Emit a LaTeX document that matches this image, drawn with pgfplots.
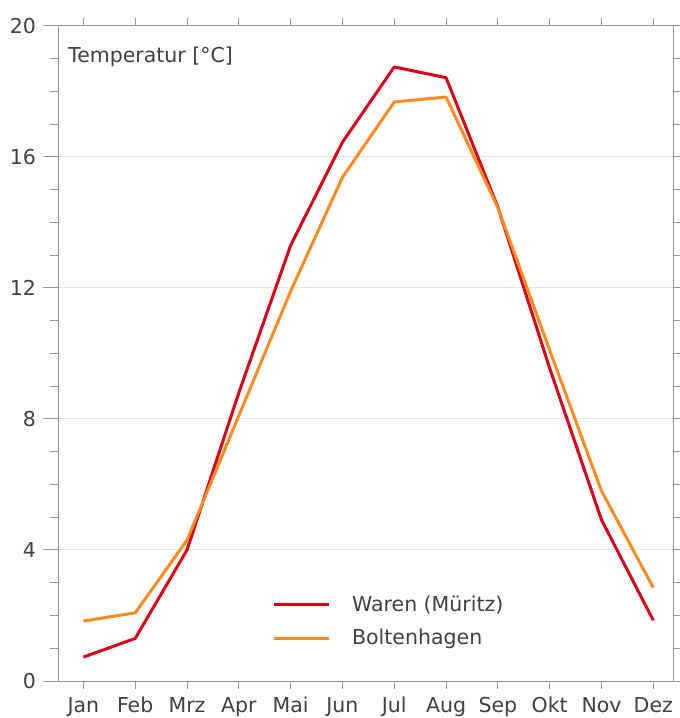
\documentclass[border=0pt]{standalone}
\usepackage{pgfplots}
\pgfplotsset{compat=1.18}
\usepackage{fontspec}
\setmainfont{DejaVu Sans}
\definecolor{cred}{RGB}{222,0,24}
\definecolor{corange}{RGB}{255,138,30}
\definecolor{txt}{RGB}{64,64,64}
\definecolor{axc}{RGB}{150,150,150}
\definecolor{gridc}{RGB}{228,228,228}
\begin{document}
\fontsize{20.5bp}{24bp}\selectfont
\begin{tikzpicture}
\begin{axis}[
  scale only axis,
  width=615bp, height=655bp,
  xmin=-0.49, xmax=11.38, ymin=0, ymax=20,
  xtick={0,...,11},
  xticklabels={Jan,Feb,Mrz,Apr,Mai,Jun,Jul,Aug,Sep,Okt,Nov,Dez},
  ytick={0,4,...,20},
  minor ytick={1,2,3,5,6,7,9,10,11,13,14,15,17,18,19},
  minor xtick={0,...,11},
  tick align=outside,
  major tick length=15bp,
  minor tick length=8bp,
  major x tick style={draw=none},
  axis line style={axc, line width=1bp},
  every tick/.style={axc, line width=1bp},
  ymajorgrids,
  major y grid style={gridc, line width=1bp},
  tick label style={txt, font=\fontsize{20.5bp}{24bp}\selectfont},
  xticklabel style={yshift=6bp, text height=15bp, text depth=4bp},
  /pgf/number format/assume math mode=true,
  clip=false,
  legend style={draw=none, fill=none, at={(rel axis cs:0.343,0.137)}, anchor=north west,
    font=\fontsize{20.5bp}{24bp}\selectfont, text=txt, row sep=11bp},
  legend cell align=left,
  legend image code/.code={\draw[#1] (0bp,0bp) -- (55bp,0bp); \path (75bp,0bp);},
]
\addplot[cred, line width=3bp, line join=round] coordinates {
 (0,0.73) (1,1.3) (2,4.0) (3,8.8) (4,13.3) (5,16.45) (6,18.75) (7,18.42) (8,14.47) (9,9.55) (10,4.92) (11,1.85)};
\addlegendentry{Waren (Müritz)}
\addplot[corange, line width=3bp, line join=round] coordinates {
 (0,1.83) (1,2.08) (2,4.3) (3,8.1) (4,11.9) (5,15.38) (6,17.68) (7,17.83) (8,14.45) (9,10.1) (10,5.8) (11,2.85)};
\addlegendentry{Boltenhagen}
\node[anchor=base west, inner sep=0, text=txt] at ([xshift=10bp,yshift=-37bp]rel axis cs:0,1) {Temperatur [°C]};
\coordinate (sw) at ([xshift=-58bp,yshift=-37bp]rel axis cs:0,0);
\coordinate (ne) at ([xshift=7bp,yshift=26bp]rel axis cs:1,1);
\end{axis}
\pgfresetboundingbox
\path (sw) rectangle (ne);
\end{tikzpicture}
\end{document}
